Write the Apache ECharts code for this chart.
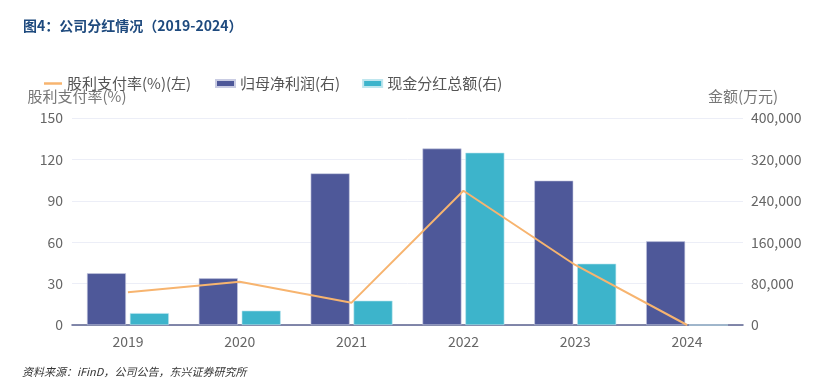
<!DOCTYPE html>
<html><head><meta charset="utf-8">
<script src="https://cdn.jsdelivr.net/npm/echarts@6/dist/echarts.min.js"></script>
<style>html,body{margin:0;padding:0;background:#fff}#c{width:824px;height:382px}</style>
</head><body><div id="c"></div>
<script>
const years = ['2019','2020','2021','2022','2023','2024'];
const payoutRatio = [23.7, 31.4, 16.2, 97.3, 43.5, 0];
const netProfit = [100000, 90200, 293000, 341000, 279000, 161700];
const cashDividend = [23000, 27700, 47000, 333000, 118500, 0];
const leftTicks = {min: 0, max: 150, interval: 30};
const rightTicks = {min: 0, max: 400000, interval: 80000};

const chart = echarts.init(document.getElementById('c'));
const font = '"Noto Sans CJK SC","Noto Sans",sans-serif';
chart.setOption({
  animation: false,
  textStyle: {fontFamily: font},
  title: {
    text: '图4：公司分红情况（2019-2024）',
    left: 18, top: 14,
    textStyle: {fontSize: 14, fontWeight: 'bold', color: '#1E4A7E', fontFamily: font}
  },
  graphic: [{
    type: 'text', left: 22, top: 366,
    style: {text: '资料来源：iFinD，公司公告，东兴证券研究所', fill: '#333', font: 'italic 11px ' + font}
  }],
  legend: [{
    left: 39, top: 71,
    itemWidth: 18, itemHeight: 2.5,
    textStyle: {fontSize: 15, color: '#555'},
    data: [{name: '股利支付率(%)(左)', icon: 'rect'}]
  }, {
    left: 210, top: 71,
    itemWidth: 19, itemHeight: 7, itemGap: 22,
    textStyle: {fontSize: 15, color: '#555'},
    data: [{name: '归母净利润(右)', icon: 'rect'}, {name: '现金分红总额(右)', icon: 'rect'}]
  }],
  grid: {left: 72, right: 81, top: 118, bottom: 57},
  xAxis: {
    type: 'category', data: years,
    axisLine: {lineStyle: {color: '#59628F', width: 1.5}},
    axisTick: {show: false},
    axisLabel: {fontSize: 14, color: '#666', margin: 10}
  },
  yAxis: [{
    type: 'value', min: leftTicks.min, max: leftTicks.max, interval: leftTicks.interval,
    name: '股利支付率(%)', nameLocation: 'end', nameGap: 14,
    nameTextStyle: {fontSize: 15, color: '#777', align: 'center', padding: [0, 0, 0, 10]},
    axisLine: {show: false}, axisTick: {show: false},
    axisLabel: {fontSize: 14, color: '#666', margin: 9},
    splitLine: {lineStyle: {color: '#ECEEF7'}}
  }, {
    type: 'value', min: rightTicks.min, max: rightTicks.max, interval: rightTicks.interval,
    name: '金额(万元)', nameLocation: 'end', nameGap: 14,
    nameTextStyle: {fontSize: 15, color: '#777', align: 'center'},
    axisLine: {show: false}, axisTick: {show: false},
    axisLabel: {fontSize: 14, color: '#666', margin: 8,
      formatter: v => v.toLocaleString('en-US')},
    splitLine: {show: false}
  }],
  series: [{
    name: '归母净利润(右)', type: 'bar', yAxisIndex: 1, data: netProfit,
    barWidth: 39, barGap: '10%',
    itemStyle: {color: '#4E5899', borderColor: '#C9CCE3', borderWidth: 0.6}
  }, {
    name: '现金分红总额(右)', type: 'bar', yAxisIndex: 1, data: cashDividend,
    barWidth: 39, barGap: '10%',
    itemStyle: {color: '#3DB4CB', borderColor: '#BFE6EE', borderWidth: 0.6}
  }, {
    name: '股利支付率(%)(左)', type: 'line', yAxisIndex: 0, data: payoutRatio,
    symbol: 'none', z: 5,
    lineStyle: {color: '#F7B46F', width: 2}, itemStyle: {color: '#F7B46F'}
  }]
});
</script></body></html>
